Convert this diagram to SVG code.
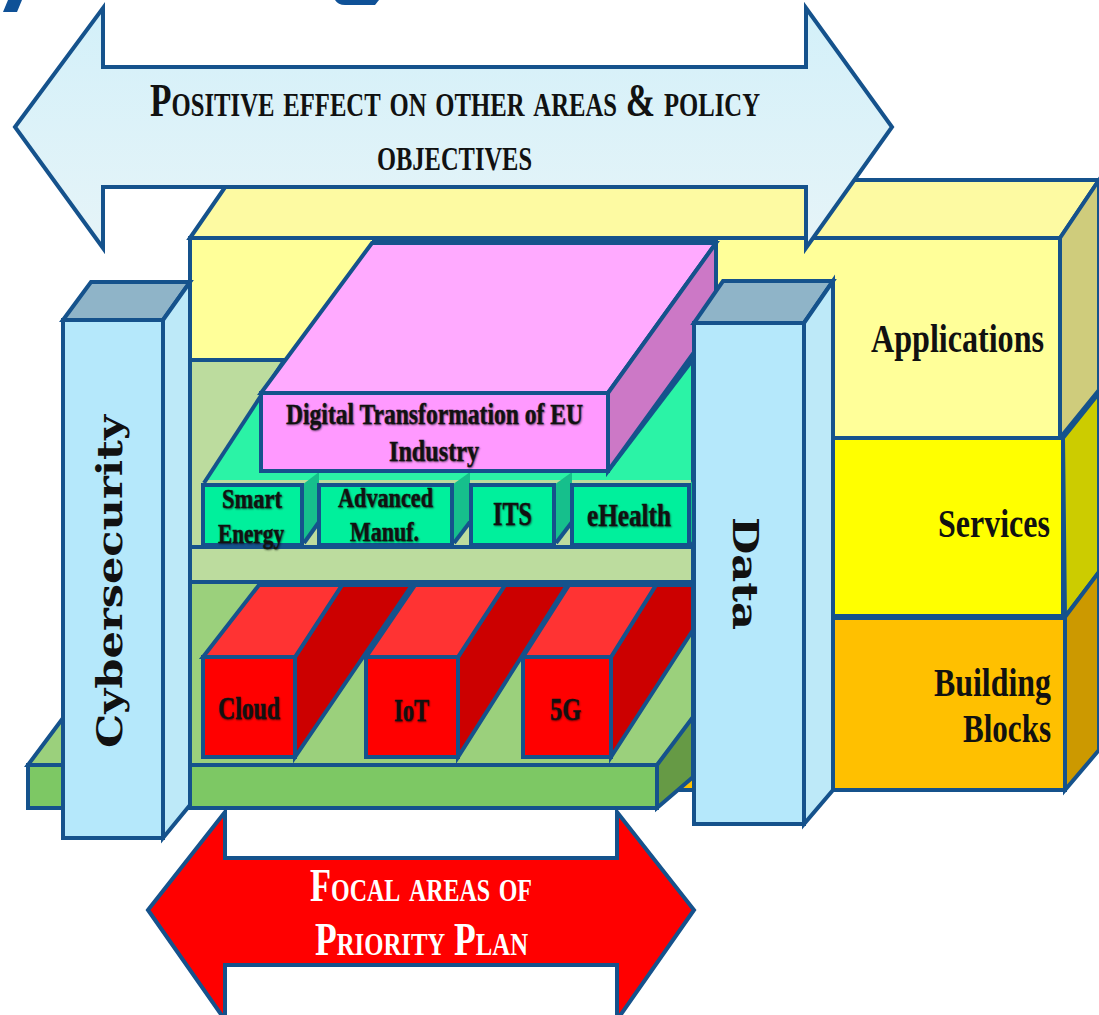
<svg xmlns="http://www.w3.org/2000/svg" width="1099" height="1015" viewBox="0 0 1099 1015">
<style>
.e{stroke:#15528c;stroke-width:4;stroke-linejoin:miter}
.d{stroke:#15528c;stroke-width:6}
.t{font-family:"Liberation Serif",serif;font-weight:bold;fill:#111;text-anchor:middle}
.s{font-variant:small-caps}
.sh{paint-order:stroke;stroke:#1c1c1c;stroke-width:.4;text-shadow:1px 1px 2px #0007}
.side{fill:#16bf8c}
</style>
<defs>
<linearGradient id="ag" x1="0" y1="0" x2="0" y2="1"><stop offset="0" stop-color="#d3f0f9"/><stop offset="1" stop-color="#e6f4f8"/></linearGradient>
</defs>
<rect width="1099" height="1015" fill="#fff"/>
<g id="title-fragments" fill="#0f5197">
<polygon points="8,0 22,0 17,12 3,12"/>
<path d="M335,0 H379 L375,5 H345 Q338,5 335,0Z"/>
</g>
<g id="applications">
<polygon class="e" points="190,238 230,180 1099,180 1060,238" fill="#fdfaa2"/>
<polygon class="e" points="1060,238 1099,180 1099,390 1060,438" fill="#cfcc7c"/>
<rect class="e" x="190" y="238" width="870" height="200" fill="#ffff99"/>
<text class="t" x="957.500" y="352" font-size="40" textLength="173" lengthAdjust="spacingAndGlyphs">Applications</text>
</g>
<g id="services">
<polygon class="e" points="1063,438 1099,393 1099,572 1065,617" fill="#cccc00"/>
<rect class="e" x="830" y="438" width="233" height="179" fill="#ffff00"/>
<text class="t" x="994" y="537" font-size="39" textLength="112" lengthAdjust="spacingAndGlyphs">Services</text>
</g>
<g id="building-blocks">
<polygon class="e" points="1065,617 1099,572 1099,750 1065,790" fill="#cc9900"/>
<rect class="e" x="660" y="617" width="405" height="173" fill="#ffc000"/>
<line class="d" x1="830" y1="617" x2="1065" y2="617"/>
<text class="t" x="992.500" y="696" font-size="40" textLength="117" lengthAdjust="spacingAndGlyphs">Building</text>
<text class="t" x="1007" y="742" font-size="40" textLength="88" lengthAdjust="spacingAndGlyphs">Blocks</text>
</g>
<g id="focal-panel">
<rect class="e" x="190" y="360" width="503" height="222" fill="#bcdc9e"/>
<rect class="e" x="190" y="582" width="503" height="183" fill="#9bd07c"/>
<line class="e" x1="190" y1="547" x2="693" y2="547"/>
</g>
<g id="base-plate">
<polygon class="e" points="28,765 63,718 190,718 190,765" fill="#9bd07c"/>
<polygon class="e" points="657,765 693,717 693,777 657,808" fill="#669a45"/>
<rect class="e" x="28" y="765" width="629" height="43" fill="#7dc864"/>
</g>
<g id="sector-platform">
<polygon points="204,480 283,362 691,362 691,480" fill="#2bf3a6"/>
<line class="e" x1="204" y1="483" x2="283" y2="362"/>
<line class="e" x1="608" y1="471" x2="691" y2="362"/>
</g>
<g id="smart-energy">
<polygon class="side" points="302,485 319,472 319,522 302,545"/>
<line class="e" x1="304" y1="543" x2="319" y2="522"/>
<rect class="e" x="203" y="485" width="99" height="60" fill="#00f09c"/>
<text class="t sh" x="252" y="508" font-size="27" textLength="60" lengthAdjust="spacingAndGlyphs">Smart</text>
<text class="t sh" x="251" y="543" font-size="27" textLength="66" lengthAdjust="spacingAndGlyphs">Energy</text>
</g>
<g id="advanced-manuf">
<polygon class="side" points="452,485 470,472 470,522 452,545"/>
<line class="e" x1="454" y1="543" x2="470" y2="522"/>
<rect class="e" x="319" y="485" width="133" height="60" fill="#00f09c"/>
<text class="t sh" x="385.500" y="507" font-size="27" textLength="95" lengthAdjust="spacingAndGlyphs">Advanced</text>
<text class="t sh" x="384.500" y="541" font-size="27" textLength="69" lengthAdjust="spacingAndGlyphs">Manuf.</text>
</g>
<g id="its">
<polygon class="side" points="554,485 572,472 572,522 554,545"/>
<line class="e" x1="556" y1="543" x2="572" y2="522"/>
<rect class="e" x="471" y="485" width="83" height="60" fill="#00f09c"/>
<text class="t sh" x="512.500" y="525" font-size="34" textLength="39" lengthAdjust="spacingAndGlyphs">ITS</text>
</g>
<g id="ehealth">
<polygon class="side" points="689,485 693,480 693,540 689,545"/>
<rect class="e" x="572" y="485" width="117" height="60" fill="#00f09c"/>
<text class="t sh" x="629" y="526" font-size="31" textLength="84" lengthAdjust="spacingAndGlyphs">eHealth</text>
</g>
<g id="digital-transformation">
<polygon class="e" points="261,393 372,243 716,243 608,393" fill="#ffaaff"/>
<polygon class="e" points="608,393 716,243 716,322 608,471" fill="#cc78c6"/>
<line class="d" x1="372" y1="241" x2="716" y2="241"/>
<rect class="e" x="261" y="393" width="347" height="78" fill="#ff99ff"/>
<text class="t sh" x="434.500" y="424" font-size="30" textLength="297" lengthAdjust="spacingAndGlyphs">Digital Transformation of EU</text>
<text class="t sh" x="434" y="461" font-size="30" textLength="90" lengthAdjust="spacingAndGlyphs">Industry</text>
</g>
<g id="cloud">
<polygon class="e" points="295,657 342,585 412,585 295,757" fill="#cc0000"/>
<polygon class="e" points="203,657 259,585 342,585 295,657" fill="#ff3333"/>
<rect class="e" x="203" y="657" width="92" height="100" fill="#ff0000"/>
<text class="t sh" x="249" y="719" font-size="31" textLength="62" lengthAdjust="spacingAndGlyphs">Cloud</text>
</g>
<g id="iot">
<polygon class="e" points="458,657 505,585 567,585 458,757" fill="#cc0000"/>
<polygon class="e" points="366,657 415,585 505,585 458,657" fill="#ff3333"/>
<rect class="e" x="366" y="657" width="92" height="100" fill="#ff0000"/>
<text class="t sh" x="411.500" y="721" font-size="31" textLength="35" lengthAdjust="spacingAndGlyphs">IoT</text>
</g>
<g id="fiveg">
<polygon class="e" points="611,657 656,585 693,585 693,630 611,757" fill="#cc0000"/>
<polygon class="e" points="523,657 569,585 656,585 611,657" fill="#ff3333"/>
<rect class="e" x="523" y="657" width="88" height="100" fill="#ff0000"/>
<text class="t sh" x="565.500" y="720" font-size="31" textLength="31" lengthAdjust="spacingAndGlyphs">5G</text>
</g>
<g id="plate-front">
<rect class="e" x="190" y="765" width="467" height="43" fill="#7dc864"/>
</g>
<g id="cybersecurity">
<polygon class="e" points="63,320 91,282 190,282 163,320" fill="#8fb4c8"/>
<polygon class="e" points="163,320 190,282 190,805 163,838" fill="#bde9f8"/>
<rect class="e" x="63" y="320" width="100" height="518" fill="#b5e8fb"/>
<text transform="translate(122 581.500) rotate(-90)" font-family="DejaVu Serif,serif" font-weight="bold" font-size="36" text-anchor="middle" fill="#111" textLength="333" lengthAdjust="spacingAndGlyphs">Cybersecurity</text>
</g>
<g id="data">
<polygon class="e" points="694,323 723,281 833,281 804,323" fill="#8fb4c8"/>
<polygon class="e" points="804,323 833,281 833,790 804,824" fill="#bde9f8"/>
<rect class="e" x="694" y="323" width="110" height="501" fill="#b5e8fb"/>
<text transform="translate(733 573.500) rotate(90)" font-family="DejaVu Serif,serif" font-weight="bold" font-size="36" text-anchor="middle" fill="#111" textLength="113" lengthAdjust="spacingAndGlyphs">Data</text>
</g>
<g id="positive-effect">
<polygon class="e" points="15,127 103,8 103,67 806,67 806,8 892,127 806,248 806,187 103,187 103,248" fill="url(#ag)"/>
<text class="t s" x="455" y="116" font-size="47" textLength="610" lengthAdjust="spacingAndGlyphs">Positive effect on other areas &amp; policy</text>
<text class="t s" x="454.500" y="170" font-size="47" textLength="155" lengthAdjust="spacingAndGlyphs">objectives</text>
</g>
<g id="focal-areas">
<polygon class="e" points="148,910 225,812 225,858 617,858 617,812 694,910 617,1020 617,965 225,965 225,1020" fill="#ff0000"/>
<text class="t s" x="421" y="901" font-size="46" style="fill:#fff" textLength="222" lengthAdjust="spacingAndGlyphs">Focal areas of</text>
<text class="t s" x="421.500" y="955" font-size="46" style="fill:#fff" textLength="213" lengthAdjust="spacingAndGlyphs">Priority Plan</text>
</g>
<g id="connectors"/>
</svg>
